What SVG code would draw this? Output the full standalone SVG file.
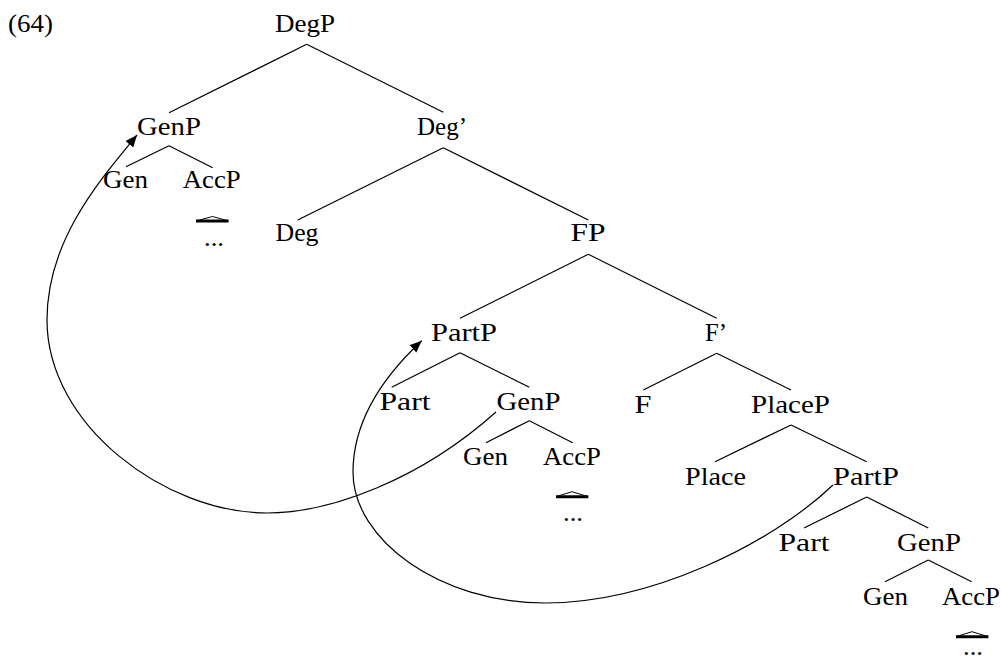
<svg xmlns="http://www.w3.org/2000/svg" width="1001" height="661" viewBox="0 0 1001 661">
<style>
text{font-family:"Liberation Serif","DejaVu Serif",serif;font-size:26px;fill:#000;text-anchor:middle}
.e{stroke:#000;stroke-width:1.2;fill:none}
.tri{stroke:#000;stroke-width:1;fill:none}
.base{stroke:#000;stroke-width:3}
.mv{stroke:#000;stroke-width:1.2;fill:none;marker-end:url(#ah)}
</style>
<defs>
<marker id="ah" markerUnits="userSpaceOnUse" markerWidth="14" markerHeight="12" refX="12" refY="5" orient="auto">
<path d="M0,0 L12,5 L0,10 z" fill="#000"/>
</marker>
</defs>
<rect width="1001" height="661" fill="#fff"/>
<text x="8" y="32" style="text-anchor:start" textLength="45" lengthAdjust="spacingAndGlyphs">(64)</text>
<g id="connectors">
<line class="e" x1="306.7" y1="44.3" x2="169" y2="112.7"/>
<line class="e" x1="306.7" y1="44.3" x2="443.3" y2="112.3"/>
<line class="e" x1="169" y1="145.7" x2="126" y2="166.7"/>
<line class="e" x1="169" y1="145.7" x2="212.7" y2="167.7"/>
<line class="e" x1="443.3" y1="147.7" x2="297.7" y2="220"/>
<line class="e" x1="443.3" y1="147.7" x2="588.3" y2="220"/>
<line class="e" x1="588.3" y1="254.3" x2="460" y2="318.3"/>
<line class="e" x1="588.3" y1="254.3" x2="716.7" y2="318.3"/>
<line class="e" x1="460" y1="352.7" x2="391.7" y2="387.3"/>
<line class="e" x1="460" y1="352.7" x2="529.3" y2="387.3"/>
<line class="e" x1="529.3" y1="420.7" x2="486" y2="442.7"/>
<line class="e" x1="529.3" y1="420.7" x2="572.7" y2="442.7"/>
<line class="e" x1="716.7" y1="353.3" x2="643.3" y2="390"/>
<line class="e" x1="716.7" y1="353.3" x2="791" y2="390"/>
<line class="e" x1="791" y1="425" x2="715" y2="461.7"/>
<line class="e" x1="791" y1="425" x2="866.7" y2="461.7"/>
<line class="e" x1="866.7" y1="497" x2="804" y2="528"/>
<line class="e" x1="866.7" y1="497" x2="928.3" y2="528"/>
<line class="e" x1="928.3" y1="560" x2="885" y2="581.7"/>
<line class="e" x1="928.3" y1="560" x2="971.7" y2="581.7"/>
<path class="mv" d="M496,412 C420,480 330,513 267,513 C165,513 47,425 47,320 C47,240 100,180 137,135"/>
<path class="mv" d="M833,485 C770,545 650,603 545,603 C440,603 353,540 353,472 C353,420 385,375 421.7,340.7"/>
</g>
<g id="n-degp"><text x="305" y="32" textLength="60" lengthAdjust="spacingAndGlyphs">DegP</text></g>
<g id="n-genp1"><text x="169" y="135" textLength="64" lengthAdjust="spacingAndGlyphs">GenP</text></g>
<g id="n-degbar"><text x="442" y="135" textLength="50" lengthAdjust="spacingAndGlyphs">Deg’</text></g>
<g id="n-gen1"><text x="125.5" y="188" textLength="45" lengthAdjust="spacingAndGlyphs">Gen</text></g>
<g id="n-accp1"><text x="211.7" y="188" textLength="58" lengthAdjust="spacingAndGlyphs">AccP</text>
<path class="tri" d="M196,221 L212.5,216.5 L228.5,221"/><line class="base" x1="196" y1="221" x2="228.5" y2="221"/>
<text x="214" y="246" textLength="20" lengthAdjust="spacingAndGlyphs">...</text></g>
<g id="n-deg"><text x="297" y="241" textLength="43" lengthAdjust="spacingAndGlyphs">Deg</text></g>
<g id="n-fp"><text x="588" y="241" textLength="35" lengthAdjust="spacingAndGlyphs">FP</text></g>
<g id="n-partp1"><text x="464" y="341" textLength="66" lengthAdjust="spacingAndGlyphs">PartP</text></g>
<g id="n-fbar"><text x="716" y="341" textLength="22" lengthAdjust="spacingAndGlyphs">F’</text></g>
<g id="n-part1"><text x="405" y="410" textLength="51" lengthAdjust="spacingAndGlyphs">Part</text></g>
<g id="n-genp2"><text x="528.5" y="410" textLength="64" lengthAdjust="spacingAndGlyphs">GenP</text></g>
<g id="n-f"><text x="643" y="413" textLength="17" lengthAdjust="spacingAndGlyphs">F</text></g>
<g id="n-placep"><text x="790.5" y="413" textLength="79" lengthAdjust="spacingAndGlyphs">PlaceP</text></g>
<g id="n-gen2"><text x="485.5" y="465" textLength="45" lengthAdjust="spacingAndGlyphs">Gen</text></g>
<g id="n-accp2"><text x="572" y="465" textLength="58" lengthAdjust="spacingAndGlyphs">AccP</text>
<path class="tri" d="M556,496.7 L572,491.7 L588.3,496.7"/><line class="base" x1="556" y1="496.7" x2="588.3" y2="496.7"/>
<text x="573" y="521" textLength="20" lengthAdjust="spacingAndGlyphs">...</text></g>
<g id="n-place"><text x="715.5" y="485" textLength="61" lengthAdjust="spacingAndGlyphs">Place</text></g>
<g id="n-partp2"><text x="866" y="485" textLength="66" lengthAdjust="spacingAndGlyphs">PartP</text></g>
<g id="n-part2"><text x="804" y="551" textLength="51" lengthAdjust="spacingAndGlyphs">Part</text></g>
<g id="n-genp3"><text x="929" y="551" textLength="64" lengthAdjust="spacingAndGlyphs">GenP</text></g>
<g id="n-gen3"><text x="885.5" y="605" textLength="45" lengthAdjust="spacingAndGlyphs">Gen</text></g>
<g id="n-accp3"><text x="971" y="605" textLength="58" lengthAdjust="spacingAndGlyphs">AccP</text>
<path class="tri" d="M956,636.7 L972,631.7 L988.3,636.7"/><line class="base" x1="956" y1="636.7" x2="988.3" y2="636.7"/>
<text x="973" y="655" textLength="20" lengthAdjust="spacingAndGlyphs">...</text></g>
</svg>
